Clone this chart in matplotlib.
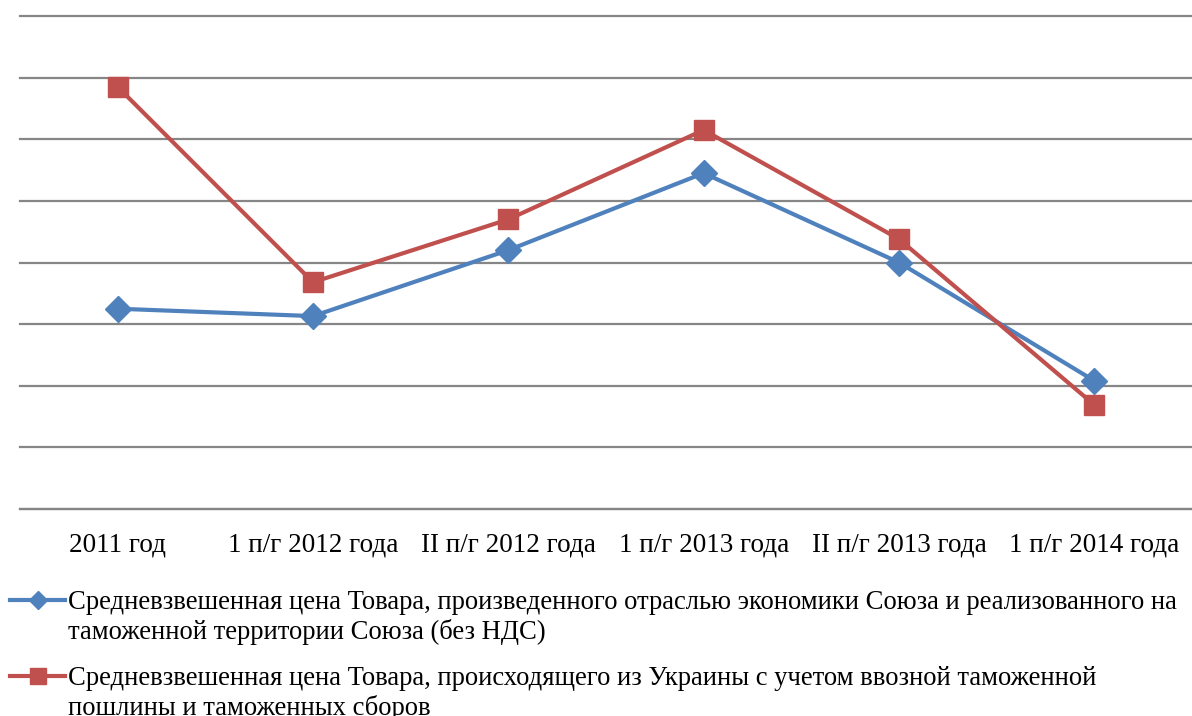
import matplotlib
matplotlib.use("Agg")
import matplotlib.pyplot as plt
from matplotlib.lines import Line2D

categories = ["2011 год", "1 п/г 2012 года", "II п/г 2012 года",
              "1 п/г 2013 года", "II п/г 2013 года", "1 п/г 2014 года"]
union_price = [3.25, 3.13, 4.20, 5.45, 4.00, 2.08]
ukraine_price = [6.85, 3.68, 4.70, 6.15, 4.38, 1.69]
labels = [
    "Средневзвешенная цена Товара, произведенного отраслью экономики Союза и реализованного на\nтаможенной территории Союза (без НДС)",
    "Средневзвешенная цена Товара, происходящего из Украины с учетом ввозной таможенной\nпошлины и таможенных сборов",
]

plt.rcParams['font.family'] = ['Liberation Serif', 'DejaVu Serif']
W, H = 1192, 716
FS = 19.5
LFS = 19.2
fig = plt.figure(figsize=(W / 100, H / 100), dpi=100)
ax = fig.add_axes([20 / W, (H - 509) / H, (W - 20) / W, (509 - 16) / H])

blue = "#4F81BD"
red = "#C0504D"
grid = "#868686"
x = list(range(len(categories)))
ax.plot(x, union_price, color=blue, lw=3, marker="D", markersize=13, zorder=3)
ax.plot(x, ukraine_price, color=red, lw=3, marker="s", markersize=14.5, zorder=3)

ax.set_xlim(-0.5, len(categories) - 0.5)
ax.set_ylim(0, 8)
ax.set_yticks(range(0, 9))
ax.set_yticklabels([])
ax.yaxis.grid(True, color=grid, lw=1.6)
for gl in ax.get_ygridlines():
    gl.set_clip_on(False)
ax.set_axisbelow(True)
ax.tick_params(axis='y', length=0)
ax.tick_params(axis='x', length=0, pad=17, labelsize=FS)
ax.set_xticks(x)
ax.set_xticklabels(categories)
for s in ["left", "right", "top"]:
    ax.spines[s].set_visible(False)
ax.spines["bottom"].set_color(grid)
ax.spines["bottom"].set_linewidth(1.6)

# manual legend
entries = [(blue, "D", 9, labels[0], 600), (red, "s", 11, labels[1], 676)]
for col, mk, ms, lab, ypx in entries:
    yf = (H - ypx) / H
    fig.add_artist(Line2D([10 / W, 65 / W], [yf, yf], color=col, lw=3,
                          transform=fig.transFigure))
    fig.add_artist(Line2D([37.5 / W], [yf], color=col, marker=mk, markersize=ms,
                          lw=0, transform=fig.transFigure))
    fig.text(68 / W, (H - ypx + 10) / H, lab, fontsize=LFS, va="top", ha="left",
             linespacing=1.22)

fig.savefig("out.png", dpi=100)
